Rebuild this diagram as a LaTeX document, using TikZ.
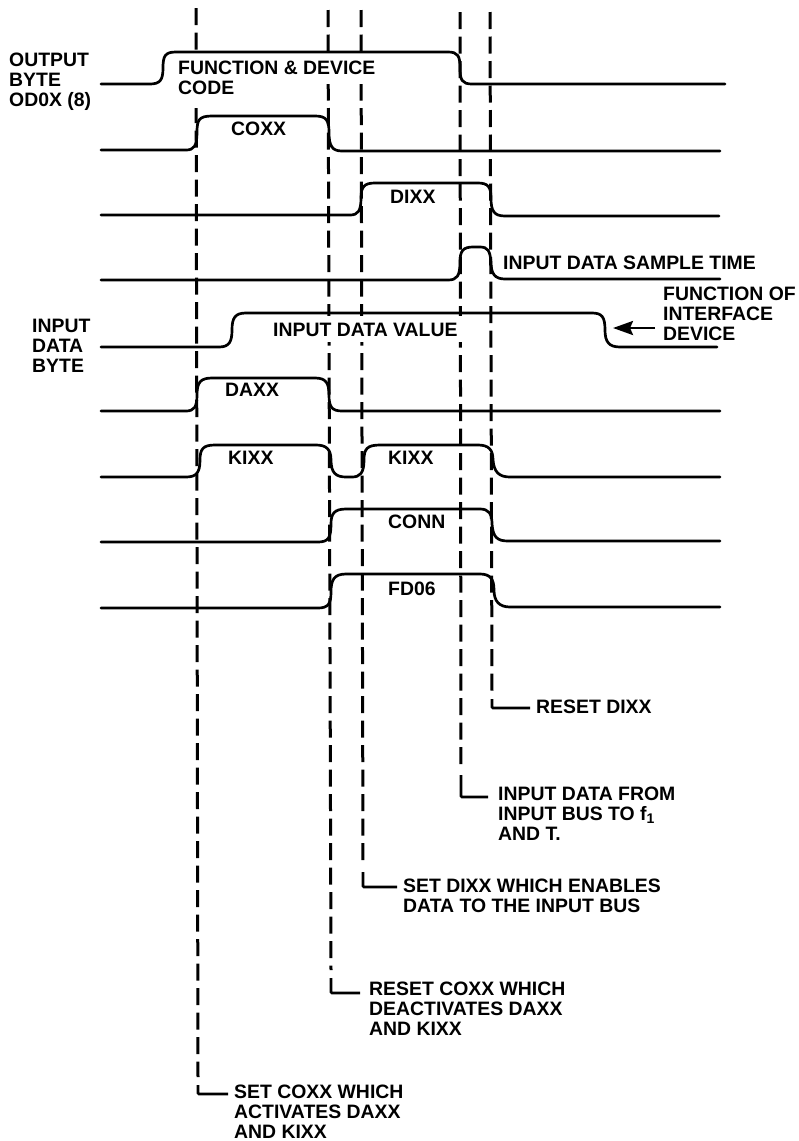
\documentclass[tikz,border=0pt]{standalone}
\usepackage{fontspec}
\setmainfont{Liberation Sans}
\usetikzlibrary{arrows.meta}
\tikzset{
  x=1pt,y=-1pt,
  wave/.style={line width=2.7pt,line cap=round,line join=round},
  guide/.style={line width=3pt,dash pattern=on 17pt off 7.5pt},
  leader/.style={line width=2.7pt,rounded corners=1pt},
  lab/.style={font=\fontsize{19.4}{20}\selectfont\bfseries,inner sep=0pt,anchor=north west,align=left,text=black}
}
\begin{document}
\begin{tikzpicture}
\useasboundingbox (0,0) rectangle (799,1141);
\fill[white] (0,0) rectangle (799,1141);
% guides
\coordinate (g1t) at (196,8);  \coordinate (g1b) at (198,1077);
\coordinate (g2t) at (328,10); \coordinate (g2b) at (331,970);
\coordinate (g3t) at (361,10); \coordinate (g3b) at (363,866);
\coordinate (g4t) at (460,12); \coordinate (g4b) at (461,770);
\coordinate (g5t) at (490,12); \coordinate (g5b) at (492,692);
\draw[guide] (g1t) -- (g1b);
\draw[guide] (g2t) -- (g2b);
\draw[guide] (g3t) -- (g3b);
\draw[guide] (g4t) -- (g4b);
\draw[guide] (g5t) -- (g5b);
% openings of the guides behind the text
\fill[white] (190,54) rectangle (204,108);
\fill[white] (322,54) rectangle (368,84);
\fill[white] (322,316) rectangle (368,342);
\fill[white] (454,316) rectangle (468,342);
% leaders
\coordinate (s1) at (198,1085); \coordinate (e1) at (228,1094);
\coordinate (s2) at (331,978);  \coordinate (e2) at (360,993);
\coordinate (s3) at (363,872);  \coordinate (e3) at (397,887);
\coordinate (s4) at (461,775);  \coordinate (e4) at (488,797);
\coordinate (s5) at (492,699);  \coordinate (e5) at (530,708);
\draw[leader] (s1) |- (e1);
\draw[leader] (s2) |- (e2);
\draw[leader] (s3) |- (e3);
\draw[leader] (s4) |- (e4);
\draw[leader] (s5) |- (e5);
% waves
\draw[wave] (101,84) -- (150,84) .. controls (160,84) and (163,80) .. (163,68) .. controls (163,56) and (165,52) .. (176,52) -- (448,52) .. controls (458,52) and (460,56) .. (460,68) .. controls (460,80) and (462,84) .. (472,84) -- (725,84);
\draw[wave] (101,150) -- (186,150) .. controls (194,150) and (197,146) .. (197,132) .. controls (197,120) and (199,116) .. (212,116) -- (315,116) .. controls (326,116) and (329,120) .. (329,132) .. controls (329,146) and (332,151) .. (342,151) -- (720,151);
\draw[wave] (101,215) -- (350,215) .. controls (358,215) and (361,211) .. (361,198) .. controls (361,187) and (364,183) .. (375,183) -- (478,183) .. controls (488,183) and (491,187) .. (491,198) .. controls (491,211) and (494,216) .. (505,216) -- (719,216);
\draw[wave] (101,280) -- (448,280) .. controls (457,280) and (460,276) .. (460,262) .. controls (460,251) and (463,247) .. (473,247) -- (480,247) .. controls (488,247) and (490,251) .. (491,262) .. controls (491,274) and (495,279) .. (505,279) -- (720,279);
\draw[wave] (101,347) -- (219,347) .. controls (229,347) and (232,342) .. (232,330) .. controls (232,318) and (235,313) .. (246,313) -- (592,313) .. controls (602,313) and (605,317) .. (605,330) .. controls (605,342) and (609,347) .. (620,347) -- (717,347);
\draw[wave] (101,411) -- (186,411) .. controls (194,411) and (197,407) .. (197,395) .. controls (197,383) and (200,378) .. (212,378) -- (315,378) .. controls (326,378) and (329,383) .. (329,395) .. controls (329,407) and (332,411) .. (342,411) -- (720,411);
\draw[wave] (101,477) -- (186,477) .. controls (196,477) and (200,473) .. (200,460) .. controls (200,449) and (203,445) .. (215,445) -- (316,445) .. controls (326,445) and (331,449) .. (331,460) .. controls (331,473) and (336,477) .. (346,477) -- (352,477) .. controls (360,477) and (364,473) .. (364,460) .. controls (364,449) and (367,445) .. (380,445) -- (478,445) .. controls (489,445) and (493,450) .. (493,460) .. controls (494,472) and (499,477) .. (510,477) -- (720,477);
\draw[wave] (101,542) -- (318,542) .. controls (328,542) and (331,538) .. (331,524) .. controls (331,514) and (334,509) .. (346,509) -- (480,509) .. controls (489,509) and (492,514) .. (492,524) .. controls (493,537) and (497,541) .. (508,541) -- (720,541);
\draw[wave] (101,608) -- (318,608) .. controls (328,608) and (331,604) .. (331,592) .. controls (331,580) and (334,574) .. (346,574) -- (480,574) .. controls (490,574) and (494,579) .. (494,590) .. controls (494,601) and (499,607) .. (510,607) -- (720,607);
% arrow
\node[lab] (fn) at (663,287) {FUNCTION OF\\INTERFACE\\DEVICE};
\coordinate (at) at (613,328);
\coordinate (af) at (655,328);
\draw[line width=2.7pt,-{Stealth[length=20pt,width=14pt,inset=3pt]}] (af) -- (at);
% labels
\node[lab] (l1) at (9,53) {OUTPUT\\BYTE\\OD0X (8)};
\node[lab] (l2) at (178,61) {FUNCTION \& DEVICE\\CODE};
\node[lab] (l3) at (231,122) {COXX};
\node[lab] (l4) at (390,190) {DIXX};
\node[lab] (l5) at (503,256) {INPUT DATA SAMPLE TIME};
\node[lab] (l6) at (32,319) {INPUT\\DATA\\BYTE};
\node[lab] (l7) at (273,323) {INPUT DATA VALUE};
\node[lab] (l8) at (225,383) {DAXX};
\node[lab] (l9) at (228,451) {KIXX};
\node[lab] (l10) at (388,451) {KIXX};
\node[lab] (l11) at (388,515) {CONN};
\node[lab] (l12) at (388,582) {FD06};
\node[lab] (l13) at (536,700) {RESET DIXX};
\node[lab] (l14) at (498,787) {INPUT DATA FROM\\INPUT BUS TO f\raisebox{-3pt}{\fontsize{14}{14}\selectfont 1}\\AND T.};
\node[lab] (l15) at (403,879) {SET DIXX WHICH ENABLES\\DATA TO THE INPUT BUS};
\node[lab] (l16) at (369,982) {RESET COXX WHICH\\DEACTIVATES DAXX\\AND KIXX};
\node[lab] (l17) at (234,1085) {SET COXX WHICH\\ACTIVATES DAXX\\AND KIXX};
\end{tikzpicture}
\end{document}
